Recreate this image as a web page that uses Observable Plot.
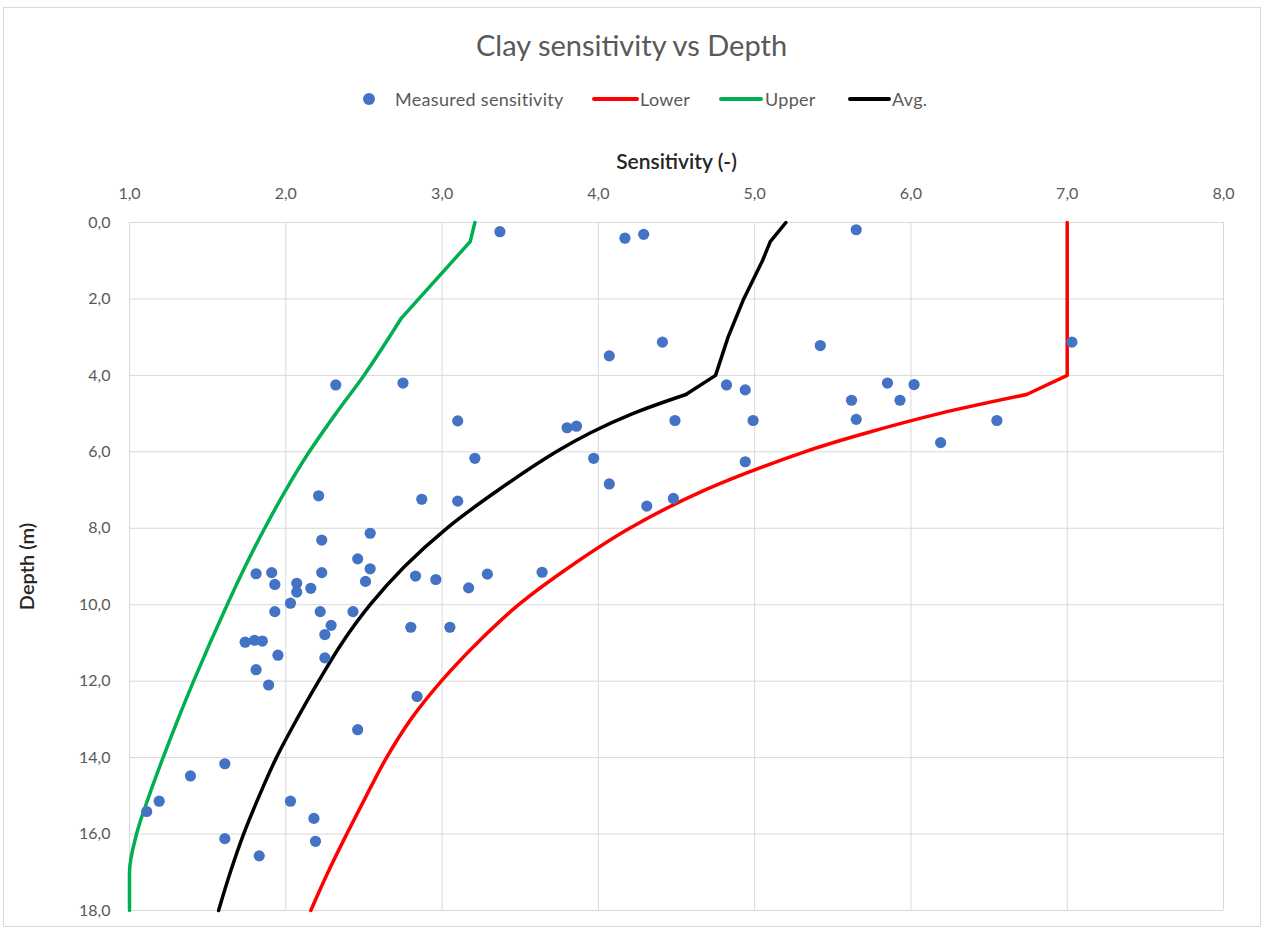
<!DOCTYPE html>
<html>
<head>
<meta charset="utf-8">
<script src="https://cdn.jsdelivr.net/npm/d3@7"></script>
<script src="https://cdn.jsdelivr.net/npm/@observablehq/plot@0.6"></script>
<style>
  html, body { margin: 0; padding: 0; background: #fff; }
  body { width: 1263px; height: 931px; position: relative; overflow: hidden; font-family: Lato, "Open Sans", sans-serif; }
  #frame { position: absolute; left: 3px; top: 7px; width: 1258px; height: 920px; border: 1px solid #d9d9d9; box-sizing: border-box; }
  #title { position: absolute; left: 0; top: 0; width: 1263px; height: 90px; line-height: 90px; text-align: center; font-size: 29px; color: #595959; }
  #legend { position: absolute; left: 0; top: 90px; width: 1263px; height: 18px; font-size: 18px; color: #595959; }
  #legend .sw { position: absolute; }
  #legend .lab { position: absolute; top: 0; line-height: 18px; white-space: nowrap; letter-spacing: 0.3px; }
  #chart { position: absolute; left: 0; top: 108px; }
</style>
</head>
<body>
<div id="frame"></div>
<div id="title">Clay sensitivity vs Depth</div>
<div id="legend"></div>
<div id="chart"></div>
<script>
// Measured clay sensitivity (-) and the depth (m) of each sample
const measuredSensitivity = [
  3.37, 4.17, 4.29, 5.65, 4.07, 4.41, 5.42, 7.03, 2.32, 2.75,
  4.82, 4.94, 5.85, 6.02, 5.62, 5.93, 3.10, 3.80, 3.86, 4.49,
  4.99, 5.65, 6.55, 6.19, 3.21, 3.97, 4.94, 4.07, 2.21, 2.87,
  3.10, 4.31, 4.48, 2.54, 2.23, 2.46, 2.54, 1.81, 1.91, 2.23,
  1.93, 2.07, 2.07, 2.16, 2.51, 2.83, 2.96, 3.17, 3.29, 3.64,
  2.03, 1.93, 2.22, 2.43, 2.29, 2.25, 2.80, 3.05, 1.74, 1.80,
  1.85, 1.95, 2.25, 1.81, 1.89, 2.84, 2.46, 1.61, 1.39, 1.19,
  1.11, 2.03, 2.18, 1.61, 2.19, 1.83
];
const measuredDepth = [
  0.24, 0.41, 0.31, 0.19, 3.49, 3.13, 3.22, 3.13, 4.25, 4.20,
  4.25, 4.38, 4.20, 4.24, 4.65, 4.65, 5.19, 5.37, 5.33, 5.18,
  5.18, 5.15, 5.18, 5.76, 6.17, 6.17, 6.26, 6.84, 7.15, 7.24,
  7.29, 7.42, 7.22, 8.13, 8.31, 8.80, 9.06, 9.19, 9.16, 9.16,
  9.47, 9.44, 9.67, 9.57, 9.39, 9.25, 9.34, 9.56, 9.20, 9.15,
  9.96, 10.18, 10.18, 10.18, 10.54, 10.78, 10.59, 10.59, 10.98, 10.93,
  10.95, 11.32, 11.39, 11.70, 12.10, 12.40, 13.27, 14.16, 14.48, 15.14,
  15.41, 15.14, 15.59, 16.12, 16.19, 16.57
];

// Lower bound curve (straight down to the break at 4.5 m, smooth below it)
const lowerDepth = [0, 4, 4.5, 5, 5.5, 6, 7, 8, 9, 10, 11, 12, 13, 14, 15, 16, 17, 18];
const lowerSensitivity = [7.0, 7.0, 6.74, 6.18, 5.72, 5.32, 4.68, 4.20, 3.82, 3.49, 3.225, 2.995, 2.80, 2.645, 2.515, 2.39, 2.27, 2.16];
const lowerBreak = 4.5;

// Upper bound curve (break at 2.5 m, levels off at 1,0 near the bottom)
const upperDepth = [0, 0.5, 2.5, 4, 5, 6, 7, 8, 9, 10, 11, 12, 13, 14, 15, 16, 17, 18];
const upperSensitivity = [3.21, 3.18, 2.74, 2.50, 2.32, 2.15, 2.00, 1.865, 1.74, 1.625, 1.515, 1.41, 1.31, 1.215, 1.125, 1.045, 1.00, 1.00];
const upperBreak = 2.5;

// Average curve (break at 4.5 m)
const avgDepth = [0, 0.5, 1, 2, 3, 4, 4.5, 5, 5.5, 6, 7, 8, 9, 10, 11, 12, 13, 14, 15, 16, 17, 18];
const avgSensitivity = [5.20, 5.10, 5.05, 4.93, 4.83, 4.75, 4.56, 4.22, 3.95, 3.73, 3.36, 3.03, 2.76, 2.54, 2.36, 2.21, 2.07, 1.94, 1.83, 1.73, 1.645, 1.57];
const avgBreak = 4.5;

// Axis ticks
const xTicks = [1, 2, 3, 4, 5, 6, 7, 8];
const yTicks = [0, 2, 4, 6, 8, 10, 12, 14, 16, 18];

// Legend entries
const seriesNames = ["Measured sensitivity", "Lower", "Upper", "Avg."];
const seriesColors = ["#4472C4", "#FF0000", "#00B050", "#000000"];

const fmt = d => d.toFixed(1).replace(".", ",");
const toRows = (depths, values) => depths.map((d, i) => ({depth: d, sens: values[i]}));

const measured = toRows(measuredDepth, measuredSensitivity);
const lower = toRows(lowerDepth, lowerSensitivity);
const upper = toRows(upperDepth, upperSensitivity);
const avg = toRows(avgDepth, avgSensitivity);

// A profile: straight segments above its break depth, a smooth curve below it
function profile(rows, brk, color, curve) {
  const style = {x: "sens", y: "depth", stroke: color, strokeWidth: 3.5, strokeLinejoin: "round", strokeLinecap: "round"};
  return [
    Plot.line(rows.filter(r => r.depth <= brk), style),
    Plot.line(rows.filter(r => r.depth >= brk), {...style, curve})
  ];
}

// Legend
const legend = document.getElementById("legend");
const legendLayout = [
  {swLeft: 363, swWidth: 12, textLeft: 395, dot: true},
  {swLeft: 592, swWidth: 47, textLeft: 640},
  {swLeft: 719, swWidth: 44, textLeft: 765},
  {swLeft: 848, swWidth: 43, textLeft: 892}
];
seriesNames.forEach((name, i) => {
  const L = legendLayout[i];
  const sw = document.createElement("div");
  sw.className = "sw";
  sw.style.left = L.swLeft + "px";
  sw.style.width = L.swWidth + "px";
  sw.style.background = seriesColors[i];
  if (L.dot) {
    sw.style.height = "12px";
    sw.style.top = "3px";
    sw.style.borderRadius = "50%";
  } else {
    sw.style.height = "4px";
    sw.style.top = "7px";
    sw.style.borderRadius = "2px";
  }
  legend.appendChild(sw);
  const lab = document.createElement("div");
  lab.className = "lab";
  lab.style.left = L.textLeft + "px";
  lab.textContent = name;
  legend.appendChild(lab);
});

const chart = Plot.plot({
  width: 1263,
  height: 823,
  marginTop: 114,
  marginBottom: 21,
  marginLeft: 129,
  marginRight: 40,
  style: {fontFamily: "Lato, 'Open Sans', sans-serif", fontSize: "16px", color: "#595959", background: "transparent", overflow: "visible"},
  x: {domain: [1, 8], label: null},
  y: {domain: [0, 18], reverse: true, label: null},
  marks: [
    Plot.gridX(xTicks, {stroke: "#d9d9d9", strokeOpacity: 1, strokeWidth: 1}),
    Plot.gridY(yTicks, {stroke: "#d9d9d9", strokeOpacity: 1, strokeWidth: 1}),
    Plot.axisX(xTicks, {anchor: "top", tickSize: 0, tickPadding: 24, tickFormat: fmt, label: null, fill: "#595959"}),
    Plot.axisY(yTicks, {anchor: "left", tickSize: 0, tickPadding: 19, tickFormat: fmt, label: null, fill: "#595959"}),
    Plot.text(["Sensitivity (-)"], {frameAnchor: "top", dy: -60, lineAnchor: "middle", textAnchor: "middle", text: d => d, fontSize: 21, fontWeight: 600, fill: "#262626", style: "letter-spacing:1.8px"}),
    Plot.text(["Depth (m)"], {frameAnchor: "left", dx: -102, rotate: -90, lineAnchor: "middle", textAnchor: "middle", text: d => d, fontSize: 20, fontWeight: 600, fill: "#262626"}),
    ...profile(lower, lowerBreak, seriesColors[1], "catmull-rom"),
    ...profile(upper, upperBreak, seriesColors[2], "monotone-y"),
    ...profile(avg, avgBreak, seriesColors[3], "catmull-rom"),
    Plot.dot(measured, {x: "sens", y: "depth", r: 5.6, fill: seriesColors[0], stroke: "none"})
  ]
});
document.getElementById("chart").appendChild(chart);
</script>
</body>
</html>
